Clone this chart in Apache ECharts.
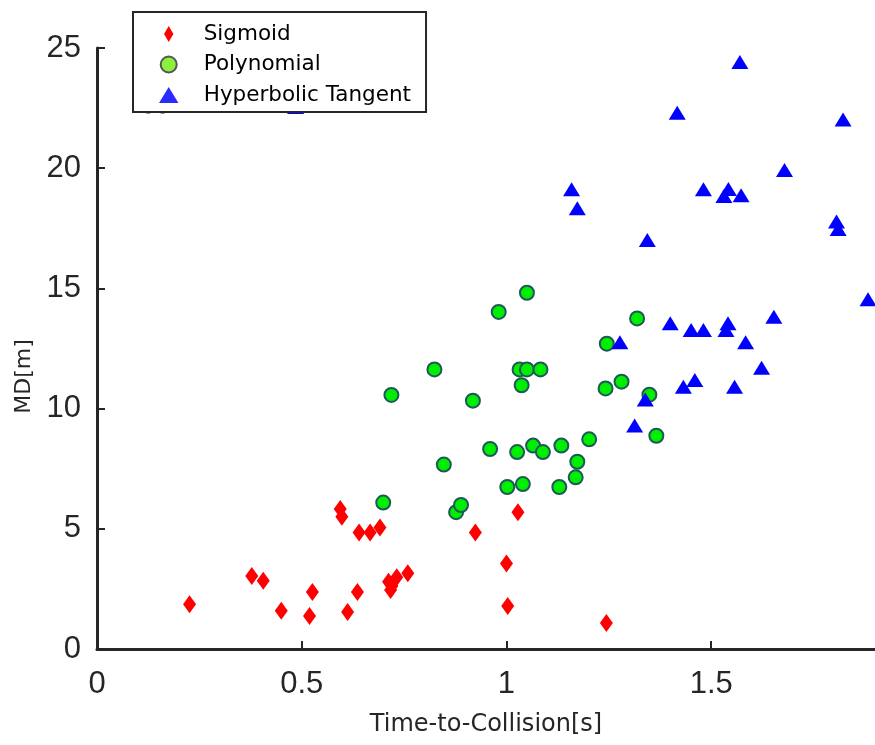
<!DOCTYPE html>
<html>
<head>
<meta charset="utf-8">
<script src="https://cdn.jsdelivr.net/npm/echarts@6/dist/echarts.min.js"></script>
<style>
  html, body { margin: 0; padding: 0; background: #fff; }
  #chart { width: 875px; height: 745px; }
</style>
</head>
<body>
<div id="chart"></div>
<script>
// Minimum distance (m) against time-to-collision (s) for three activation functions
const seriesNames = ['Sigmoid', 'Polynomial', 'Hyperbolic Tangent'];

const sigmoidPoints = [
  [0.226, 1.86], [0.378, 3.04], [0.406, 2.84], [0.450, 1.59], [0.519, 1.37],
  [0.526, 2.37], [0.594, 5.82], [0.598, 5.50], [0.612, 1.54], [0.636, 2.37],
  [0.640, 4.85], [0.667, 4.85], [0.691, 5.05], [0.712, 2.80], [0.717, 2.45],
  [0.720, 2.62], [0.732, 2.98], [0.759, 3.15], [0.924, 4.85], [1.000, 3.56],
  [1.003, 1.79], [1.028, 5.69], [1.244, 1.08]
];

const polynomialPoints = [
  [0.125, 22.6], [0.160, 22.6],
  [0.699, 6.09], [0.719, 10.57], [0.824, 11.63], [0.847, 7.67], [0.877, 5.69],
  [0.889, 5.99], [0.918, 10.33], [0.960, 8.32], [0.981, 14.02], [1.002, 6.74],
  [1.026, 8.19], [1.032, 11.63], [1.037, 10.97], [1.040, 6.86], [1.050, 14.82],
  [1.050, 11.63], [1.065, 8.46], [1.083, 11.63], [1.089, 8.19], [1.129, 6.74],
  [1.134, 8.46], [1.169, 7.14], [1.173, 7.79], [1.202, 8.72], [1.242, 10.84],
  [1.245, 12.70], [1.281, 11.12], [1.319, 13.75], [1.349, 10.58], [1.366, 8.87]
];

const tanhPoints = [
  [0.485, 22.55],
  [1.159, 19.12], [1.173, 18.33], [1.277, 12.76], [1.313, 9.30], [1.339, 10.38],
  [1.344, 17.01], [1.400, 13.55], [1.417, 22.31], [1.432, 10.91], [1.451, 13.27],
  [1.460, 11.19], [1.481, 13.27], [1.481, 19.12], [1.531, 18.84], [1.536, 13.27],
  [1.541, 13.55], [1.542, 19.13], [1.557, 10.91], [1.570, 24.42], [1.573, 18.87],
  [1.584, 12.76], [1.623, 11.70], [1.653, 13.82], [1.679, 19.93], [1.806, 17.78],
  [1.810, 17.47], [1.822, 22.03], [1.883, 14.55]
];

const xRange = [0, 1.9];
const xStep = 0.5;
const yRange = [0, 25];
const yStep = 5;

const ink = '#262626';
const diamondPath = 'path://M5,0L10,8.5L5,17L0,8.5Z';
const trianglePath = 'path://M8.5,0L17,14L0,14Z';

const chart = echarts.init(document.getElementById('chart'), null, { renderer: 'canvas' });

chart.setOption({
  backgroundColor: '#ffffff',
  animation: false,
  grid: { left: 97, top: 48, right: -5, bottom: 96, containLabel: false },
  legend: {
    orient: 'vertical',
    left: 133,
    top: 12,
    z: 10,
    padding: [11, 15, 6, 26],
    itemWidth: 60,
    itemHeight: 16,
    itemGap: 8.5,
    backgroundColor: '#ffffff',
    borderColor: ink,
    borderWidth: 2,
    borderRadius: 0,
    selectedMode: false,
    textStyle: { fontFamily: 'DejaVu Sans', fontSize: 21.5, color: '#000000', lineHeight: 20 },
    data: [
      { name: seriesNames[0] },
      { name: seriesNames[1], itemStyle: { color: '#8cf03c', borderColor: '#555555', borderWidth: 2 } },
      { name: seriesNames[2], itemStyle: { color: '#2b2bff' } }
    ]
  },
  xAxis: {
    type: 'value',
    min: xRange[0],
    max: xRange[1],
    interval: xStep,
    name: 'Time-to-Collision[s]',
    nameLocation: 'middle',
    nameGap: 64,
    nameTextStyle: { fontFamily: 'DejaVu Sans', fontSize: 24, color: ink },
    axisLine: { show: true, onZero: false, lineStyle: { color: ink, width: 3 } },
    axisTick: { show: true, inside: true, length: 8, lineStyle: { color: ink, width: 2 } },
    axisLabel: {
      show: true, margin: 20, showMaxLabel: false,
      fontFamily: 'Liberation Sans', fontSize: 31, color: ink
    },
    splitLine: { show: false }
  },
  yAxis: {
    type: 'value',
    min: yRange[0],
    max: yRange[1],
    interval: yStep,
    name: 'MD[m]',
    nameLocation: 'middle',
    nameGap: 58,
    nameRotate: 90,
    nameTextStyle: { fontFamily: 'DejaVu Sans', fontSize: 22, color: ink, padding: [0, 56, 0, 0] },
    axisLine: { show: true, onZero: false, lineStyle: { color: ink, width: 3 } },
    axisTick: { show: true, inside: true, length: 8, lineStyle: { color: ink, width: 2 } },
    axisLabel: {
      show: true, margin: 16,
      fontFamily: 'Liberation Sans', fontSize: 31, color: ink
    },
    splitLine: { show: false }
  },
  series: [
    {
      name: seriesNames[0],
      type: 'scatter',
      data: sigmoidPoints,
      symbol: diamondPath,
      symbolSize: [13, 18],
      symbolKeepAspect: false,
      itemStyle: { color: '#ff0000', opacity: 1 },
      z: 2
    },
    {
      name: seriesNames[1],
      type: 'scatter',
      data: polynomialPoints,
      symbol: 'circle',
      symbolSize: 14,
      itemStyle: { color: '#00ee00', borderColor: '#1f5858', borderWidth: 2, opacity: 1 },
      z: 2
    },
    {
      name: seriesNames[2],
      type: 'scatter',
      data: tanhPoints,
      symbol: trianglePath,
      symbolSize: [17, 14],
      symbolKeepAspect: false,
      itemStyle: { color: '#0000ff', opacity: 1 },
      z: 2
    }
  ]
});
</script>
</body>
</html>
